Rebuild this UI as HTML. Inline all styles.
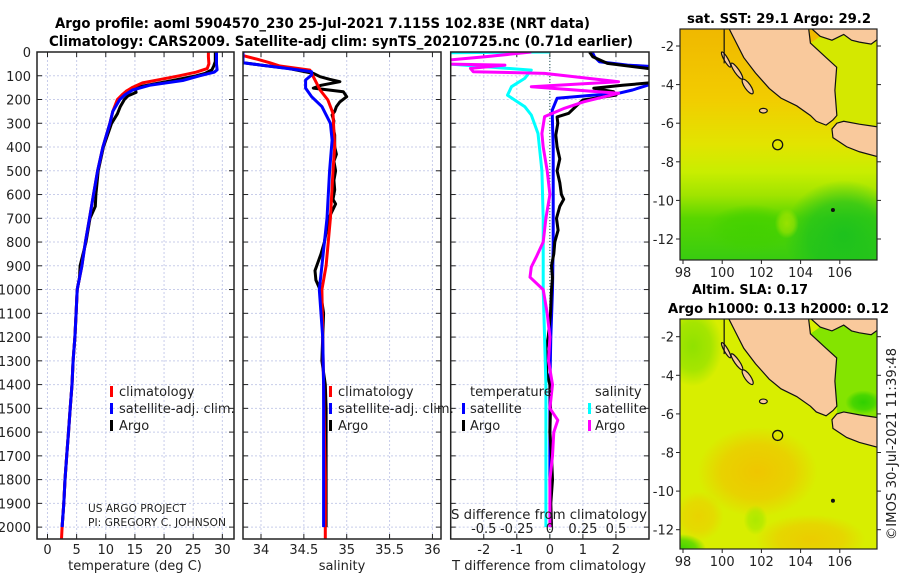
<!DOCTYPE html>
<html><head><meta charset="utf-8"><style>
html,body{margin:0;padding:0;background:#fff;width:900px;height:580px;overflow:hidden}
svg{display:block;font-family:"DejaVu Sans","Liberation Sans",sans-serif}
</style></head><body>
<svg id="fig" width="900" height="580" viewBox="0 0 900 580" xmlns="http://www.w3.org/2000/svg">
<text x="55" y="28" font-size="14" font-weight="bold" textLength="535" lengthAdjust="spacingAndGlyphs">Argo profile: aoml 5904570_230 25-Jul-2021 7.115S 102.83E (NRT data)</text>
<text x="49" y="46" font-size="14" font-weight="bold" textLength="584" lengthAdjust="spacingAndGlyphs">Climatology: CARS2009. Satellite-adj clim: synTS_20210725.nc (0.71d earlier)</text>
<text x="687" y="23" font-size="13" font-weight="bold" textLength="184" lengthAdjust="spacingAndGlyphs">sat. SST: 29.1 Argo: 29.2</text>
<text x="692" y="294" font-size="13" font-weight="bold" textLength="116" lengthAdjust="spacingAndGlyphs">Altim. SLA: 0.17</text>
<text x="668" y="313" font-size="13" font-weight="bold" textLength="221" lengthAdjust="spacingAndGlyphs">Argo h1000: 0.13 h2000: 0.12</text>
<text transform="translate(896,540) rotate(-90)" font-size="13" fill="#222" textLength="192" lengthAdjust="spacingAndGlyphs">©IMOS 30-Jul-2021 11:39:48</text>
<g id="charts"></g>
<g id="maps"></g>
</svg>
<script>
// ---- temperature (deg C) ----
const climTDepth=[0,20,50,70,85,100,115,130,150,165,180,200,250,300,400,500,600,700,800,900,1000,1100,1200,1300,1400,1500,1600,1700,1800,1900,2000,2050];
const climTVal=[27.6,27.6,27.7,27.4,25.5,22.6,19.5,16.3,14.5,13.5,12.8,12.0,11.2,10.7,9.5,8.6,7.9,7.2,6.5,5.9,5.1,4.9,4.7,4.4,4.2,3.9,3.6,3.3,3.0,2.8,2.5,2.4];
const satTDepth=[0,50,75,85,100,120,140,160,180,200,250,300,400,500,600,700,800,900,1000,1100,1200,1300,1400,1500,1600,1700,1800,1900,2000];
const satTVal=[29.0,29.0,29.1,28.6,26.1,23.2,17.5,14.6,13.3,12.4,11.2,10.7,9.5,8.6,7.9,7.2,6.5,5.9,5.1,4.9,4.7,4.4,4.2,3.9,3.6,3.3,3.0,2.8,2.5];
const argoTDepth=[0,40,60,75,90,100,120,150,170,185,200,230,260,300,400,500,600,650,700,800,900,950,1000,1100,1200,1300,1400,1500,1600,1700,1800,1900,2000];
const argoTVal=[28.8,28.8,28.5,28.2,27,25.5,21.5,15,15.2,13.8,13.2,12.5,12,11,9.6,8.7,8.3,8.2,7.3,6.6,5.6,5.5,5.1,4.9,4.7,4.4,4.2,3.9,3.6,3.3,3.0,2.8,2.5];
// ---- salinity ----
const climSDepth=[15,30,45,59,76,104,160,202,258,400,500,700,900,1000,1200,1400,1600,1800,2000,2050];
const climSVal=[33.79,33.95,34.1,34.22,34.57,34.61,34.69,34.78,34.84,34.86,34.84,34.81,34.76,34.71,34.72,34.73,34.74,34.75,34.75,34.75];
const satSDepth=[0,45,55,69,83,97,118,152,188,230,300,371,500,700,900,1000,1200,1400,1600,1800,2000];
const satSVal=[33.79,33.79,34.0,34.3,34.59,34.59,34.52,34.52,34.59,34.71,34.81,34.83,34.8,34.77,34.71,34.68,34.72,34.73,34.73,34.73,34.73];
const argoSDepth=[0,45,55,69,90,104,115,125,140,152,167,188,210,230,250,265,290,315,350,400,430,460,500,540,580,620,640,700,760,800,850,880,920,960,1000,1100,1200,1300,1400,1500,1600,1700,1800,1900,2000];
const argoSVal=[33.79,33.79,34.0,34.32,34.61,34.69,34.8,34.92,34.7,34.61,34.96,35.0,34.92,34.88,34.86,34.83,34.85,34.84,34.86,34.86,34.88,34.85,34.87,34.85,34.86,34.84,34.87,34.79,34.76,34.74,34.7,34.67,34.63,34.64,34.69,34.73,34.72,34.71,34.75,34.76,34.76,34.76,34.76,34.76,34.76];
// ---- differences ----
const satTdDepth=[0,20,41,55,62,75,100,125,140,160,175,182,195,245,300,400,600,800,1000,1200,1400,1600,1800,2000];
const satTdVal=[1.28,1.35,1.5,2.35,3.2,3.5,3.5,3.3,2.95,2.5,2.04,1.28,0.22,0.07,0.08,0.1,0.1,0.1,0.08,0.03,0.0,0.0,0.0,0.02];
const argoTdDepth=[0,20,48,69,75,100,125,140,153,167,182,202,223,258,273,300,350,400,450,500,550,600,620,650,700,750,800,850,900,950,1000,1100,1200,1250,1300,1350,1400,1500,1600,1700,1800,1900,2000];
const argoTdVal=[1.2,1.3,1.74,2.95,3.4,3.5,3.4,2.2,1.33,1.93,2.0,1.0,0.83,0.57,0.22,0.24,0.18,0.22,0.3,0.22,0.3,0.35,0.42,0.3,0.2,0.25,0.15,0.12,0.05,0.08,0.05,0.02,-0.05,-0.12,-0.08,-0.1,0.0,0.02,0.0,0.05,0.08,0.03,0.05];
const satSdDepth=[0,5,13,41,55,76,111,146,182,230,265,343,500,700,1000,1400,2000];
const satSdVal=[0.0,-1.25,-1.2,-1.0,-0.65,-0.14,-0.19,-0.29,-0.32,-0.19,-0.14,-0.09,-0.06,-0.05,-0.05,-0.03,-0.03];
const argoSdDepth=[0,20,48,55,69,83,90,125,146,174,209,237,272,343,400,500,600,700,800,860,905,948,1000,1100,1200,1300,1400,1500,1550,1600,1700,1800,1900,2000];
const argoSdVal=[-0.14,-0.49,-1.05,-0.34,-0.6,-0.58,-0.04,0.52,-0.14,0.52,0.26,0.11,-0.04,-0.06,-0.05,-0.02,0.0,-0.03,-0.05,-0.1,-0.14,-0.15,-0.05,-0.02,0.0,-0.01,0.02,0.0,0.06,0.03,0.02,0.0,0.0,0.0];
// ---- ticks ----
const depthTicks=[0,100,200,300,400,500,600,700,800,900,1000,1100,1200,1300,1400,1500,1600,1700,1800,1900,2000];
const tempTicks=[0,5,10,15,20,25,30];
const salTicks=[34,34.5,35,35.5,36];
const salTickLabels=["34","34.5","35","35.5","36"];
const tdTicks=[-2,-1,0,1,2];
const sdTicks=[-0.5,-0.25,0,0.25,0.5];
const sdTickLabels=["-0.5","-0.25","0","0.25","0.5"];
const lonTicks=[98,100,102,104,106];
const latTicks=[-2,-4,-6,-8,-10,-12];

const NS="http://www.w3.org/2000/svg";
function mk(tag,attrs,parent){const e=document.createElementNS(NS,tag);for(const k in attrs)e.setAttribute(k,attrs[k]);parent.appendChild(e);return e;}
const charts=document.getElementById('charts');
const TOP=52,BOT=539,DMAX=2050;
const yD=d=>TOP+d*(BOT-TOP)/DMAX;
const panels=[
 {name:'temperature-panel',l:37,r:234,min:-1.8,max:32},
 {name:'salinity-panel',l:243,r:441,min:33.79,max:36.1},
 {name:'difference-panel',l:450.7,r:649,min:-3,max:3}
];
function xs(p){return v=>p.l+(v-p.min)*(p.r-p.l)/(p.max-p.min);}
panels.forEach((p,i)=>{
 const g=mk('g',{},charts);
 
 
 mk('clipPath',{id:'clip'+i},g);
 mk('rect',{x:p.l,y:TOP,width:p.r-p.l,height:BOT-TOP},g.lastChild);
 p.g=g;p.x=xs(p);
 const grid=mk('g',{stroke:'#c8cdea','stroke-width':1,'stroke-dasharray':'2,2'},g);
 
 
 depthTicks.forEach(d=>{mk('line',{x1:p.l,x2:p.r,y1:yD(d),y2:yD(d)},grid);
   mk('line',{x1:p.l,x2:p.l+5,y1:yD(d),y2:yD(d),stroke:'#222','stroke-dasharray':'none'},g);
   mk('line',{x1:p.r-5,x2:p.r,y1:yD(d),y2:yD(d),stroke:'#222','stroke-dasharray':'none'},g);});
 const vt=i===0?tempTicks:i===1?salTicks:tdTicks;
 vt.forEach(v=>{const X=p.x(v);mk('line',{x1:X,x2:X,y1:TOP,y2:BOT},grid);
   mk('line',{x1:X,x2:X,y1:BOT-5,y2:BOT,stroke:'#222'},g);mk('line',{x1:X,x2:X,y1:TOP,y2:TOP+5,stroke:'#222'},g);});
});
depthTicks.forEach(d=>{const t=mk('text',{x:31,y:yD(d)+5,'font-size':13,'text-anchor':'end',fill:'#222'},charts);t.textContent=d;
 
 });
function xlab(p,vals,labels,y){vals.forEach((v,k)=>{const t=mk('text',{x:p.x(v),y:y,'font-size':13,'text-anchor':'middle',fill:'#222'},charts);t.textContent=labels?labels[k]:v;
 
 });}
xlab(panels[0],tempTicks,null,554);
xlab(panels[1],salTicks,salTickLabels,554);
xlab(panels[2],tdTicks,null,554);
const sx=v=>panels[2].x(v*4);
sdTicks.forEach((v,k)=>{const t=mk('text',{x:sx(v),y:533,'font-size':13,'text-anchor':'middle',fill:'#222'},charts);t.textContent=sdTickLabels[k];
 
 });
function line(p,i,depths,vals,color,name,xf,w){
 const f=xf||p.x;
 const pts=depths.map((d,k)=>f(vals[k]).toFixed(1)+','+yD(d).toFixed(1)).join(' ');
 const e=mk('polyline',{points:pts,fill:'none',stroke:color,'stroke-width':w||3,'stroke-linejoin':'round','clip-path':'url(#clip'+i+')'},p.g);
 
 
}
const P=panels;
line(P[0],0,argoTDepth,argoTVal,'#000','argo-temperature');
line(P[0],0,climTDepth,climTVal,'#f00','climatology-temperature');
line(P[0],0,satTDepth,satTVal,'#00f','satellite-temperature');
line(P[1],1,argoSDepth,argoSVal,'#000','argo-salinity');
line(P[1],1,climSDepth,climSVal,'#f00','climatology-salinity');
line(P[1],1,satSDepth,satSVal,'#00f','satellite-salinity');
const z=mk('line',{x1:P[2].x(0),x2:P[2].x(0),y1:TOP,y2:BOT,stroke:'#254',"stroke-dasharray":'1,2','stroke-width':1},P[2].g);


line(P[2],2,satTdDepth,satTdVal,'#00f','satellite-t-difference');
line(P[2],2,argoTdDepth,argoTdVal,'#000','argo-t-difference');
line(P[2],2,satSdDepth,satSdVal,'#0ff','satellite-s-difference',sx);
line(P[2],2,argoSdDepth,argoSdVal,'#f0f','argo-s-difference',sx);
panels.forEach(p=>{const b=mk('rect',{x:p.l,y:TOP,width:p.r-p.l,height:BOT-TOP,fill:'none',stroke:'#222','stroke-width':1.5},p.g);
 
 });
function txt(x,y,s,name,size,anchor,len){const t=mk('text',{x:x,y:y,'font-size':size||13,fill:'#222','text-anchor':anchor||'start'},charts);if(len){t.setAttribute('textLength',len);t.setAttribute('lengthAdjust','spacingAndGlyphs');}t.textContent=s;
 
 return t;}
function bar(x,y,c,name){const e=mk('rect',{x:x,y:y-6,width:3,height:11,fill:c},charts);
 
 }
txt(135,570,'temperature (deg C)','x-axis-title-temperature',13,'middle');
txt(342,570,'salinity','x-axis-title-salinity',13,'middle');
txt(549,570,'T difference from climatology','x-axis-title-t-difference',13,'middle',194);
txt(451,519,'S difference from climatology','s-axis-title',13,'start',196);
txt(88,512,'US ARGO PROJECT','credit-project',11,'start',98);
txt(88,526,'PI: GREGORY C. JOHNSON','credit-pi',11,'start',138);
[['climatology','#f00',396],['satellite-adj. clim.','#00f',413],['Argo','#000',430]].forEach(([s,c,y])=>{
 bar(110,y-4,c,'legend-swatch');txt(119,y,s,'legend-entry-temperature');
 bar(329,y-4,c,'legend-swatch');txt(338,y,s,'legend-entry-salinity');});
txt(470,396,'temperature','legend-title-temperature');
txt(595,396,'salinity','legend-title-salinity');
bar(462,409,'#00f','legend-swatch');txt(470,413,'satellite','legend-t-satellite');
bar(462,426,'#000','legend-swatch');txt(470,430,'Argo','legend-t-argo');
bar(588,409,'#0ff','legend-swatch');txt(595,413,'satellite','legend-s-satellite');
bar(588,426,'#f0f','legend-swatch');txt(595,430,'Argo','legend-s-argo');

// ---- maps ----
const maps=document.getElementById('maps');
const sumatra=[[100.3,-1.0],[100.6,-1.6],[101.1,-2.6],[101.7,-3.4],[102.4,-4.2],[103.0,-4.7],[103.8,-5.1],[104.5,-5.6],[104.8,-5.9],[105.3,-6.1],[105.65,-5.83],[105.85,-5.6],[105.75,-4.3],[105.84,-3.1],[105.3,-2.6],[104.5,-1.85],[104.4,-1.0]];
const java=[[105.85,-6.0],[106.2,-5.9],[107.0,-6.05],[108,-6.2],[108,-7.75],[107.0,-7.48],[106.35,-7.22],[105.65,-6.75],[105.6,-6.3]];
const bangka=[[104.45,-1.0],[108,-1.0],[108,-1.6],[107.6,-1.9],[107.0,-1.8],[106.6,-1.7],[106.2,-1.4],[105.6,-1.7],[105.0,-1.5]];
const javaSea=[[104.5,-1.85],[105.0,-1.5],[105.6,-1.7],[106.2,-1.4],[106.6,-1.7],[107.0,-1.8],[108,-1.6],[108,-6.2],[105.85,-6.0],[105.85,-5.6],[105.75,-4.3],[105.84,-3.1],[105.3,-2.6]];
const islands=[[100.2,-2.7,0.1,0.45,-30],[100.75,-3.3,0.12,0.5,-35],[101.3,-4.1,0.15,0.45,-35],[102.1,-5.35,0.2,0.12,0]];
function drawMap(idx,top,bottom,lat2y){
 const L=680,R=877;
 const px=lon=>683+(lon-98)*19.6, py=lat=>lat2y+(-2-lat)*19.3;
 const g=mk('g',{},maps);
 
 
 const cid='mclip'+idx;
 mk('rect',{x:L,y:top,width:R-L,height:bottom-top},mk('clipPath',{id:cid},g));
 const defs=mk('defs',{},g);
 const inner=mk('g',{'clip-path':'url(#'+cid+')'},g);
 const blob=(id,c,cx,cy,rx,ry,o)=>{const rg=mk('radialGradient',{id:id},defs);
   mk('stop',{offset:0,'stop-color':c,'stop-opacity':o},rg);mk('stop',{offset:0.6,'stop-color':c,'stop-opacity':o*0.7},rg);mk('stop',{offset:1,'stop-color':c,'stop-opacity':0},rg);
   mk('ellipse',{cx:cx,cy:cy,rx:rx,ry:ry,fill:'url(#'+id+')'},inner);};
 if(idx===0){
  const lg=mk('linearGradient',{id:'g0',x1:0,y1:0,x2:0,y2:1},defs);
  [['0','#f0b800'],['0.3','#f2cc00'],['0.5','#e2e400'],['0.62','#c8ee00'],['0.72','#a0e400'],['0.82','#58d600'],['1','#38cc10']].forEach(s=>mk('stop',{offset:s[0],'stop-color':s[1]},lg));
  mk('rect',{x:L,y:top,width:R-L,height:bottom-top,fill:'url(#g0)'},inner);
  blob('r0','#18c020',px(106.2),py(-11.8),60,55,0.9);
  blob('r0c','#40d000',px(101.5),py(-11.5),45,25,0.8);
  blob('r0b','#b8e800',px(103.3),py(-11.2),12,15,0.7);
  mk('polygon',{points:javaSea.map(p=>px(p[0])+','+py(p[1])).join(' '),fill:'#d4e800'},inner);
 } else {
  mk('rect',{x:L,y:top,width:R-L,height:bottom-top,fill:'#d8ee00'},inner);
  blob('b1','#f0c400',px(101.8),py(-9),60,45,0.95);
  blob('b2','#f0c400',px(104.5),py(-12.5),55,25,0.8);
  blob('b3','#f0c800',px(98.8),py(-11.3),25,25,0.7);
  blob('b4','#88e000',px(98.5),py(-2.5),30,40,0.9);
  blob('b5','#40d400',px(97.9),py(-13),25,15,1);
  blob('b6','#a8e800',px(101.7),py(-11.5),12,15,0.9);
  mk('polygon',{points:javaSea.map(p=>px(p[0])+','+py(p[1])).join(' '),fill:'#84e400'},inner);
  blob('b7','#30d000',px(107.2),py(-5.4),18,12,1);
 }
 const land=(pts,name)=>{const e=mk('polygon',{points:pts.map(p=>px(p[0])+','+py(p[1])).join(' '),fill:'#f9c99c',stroke:'#111','stroke-width':1.2},inner);
  
  };
 land(sumatra,'sumatra');land(java,'java');land(bangka,'bangka');
 islands.forEach(s=>mk('ellipse',{cx:px(s[0]),cy:py(s[1]),rx:s[2]*19.6,ry:s[3]*19.3,transform:'rotate('+s[4]+' '+px(s[0])+' '+py(s[1])+')',fill:'#f9c99c',stroke:'#111','stroke-width':1.2},inner));
 mk('line',{x1:px(100.1),x2:px(100.1),y1:top,y2:py(-2.9),stroke:'#111','stroke-width':1.2},inner);
 mk('circle',{cx:px(105.65),cy:py(-10.5),r:2,fill:'#111'},inner);
 const m=mk('circle',{cx:px(102.83),cy:py(-7.115),r:5,fill:'none',stroke:'#111','stroke-width':1.3},inner);
 
 
 mk('rect',{x:L,y:top,width:R-L,height:bottom-top,fill:'none',stroke:'#222','stroke-width':1.2},g);
 lonTicks.forEach(v=>{const t=mk('text',{x:px(v),y:bottom+17,'font-size':13,'text-anchor':'middle',fill:'#222'},g);t.textContent=v;
  
  
  mk('line',{x1:px(v),x2:px(v),y1:bottom,y2:bottom+4,stroke:'#222'},g);});
 latTicks.forEach(v=>{const t=mk('text',{x:L-6,y:py(v)+5,'font-size':13,'text-anchor':'end',fill:'#222'},g);t.textContent=v;
  
  
  mk('line',{x1:L-4,x2:L,y1:py(v),y2:py(v),stroke:'#222'},g);mk('line',{x1:R,x2:R+4,y1:py(v),y2:py(v),stroke:'#222'},g);});
}
drawMap(0,29,260,46);
drawMap(1,319,549,336.7);
</script>
</body></html>
